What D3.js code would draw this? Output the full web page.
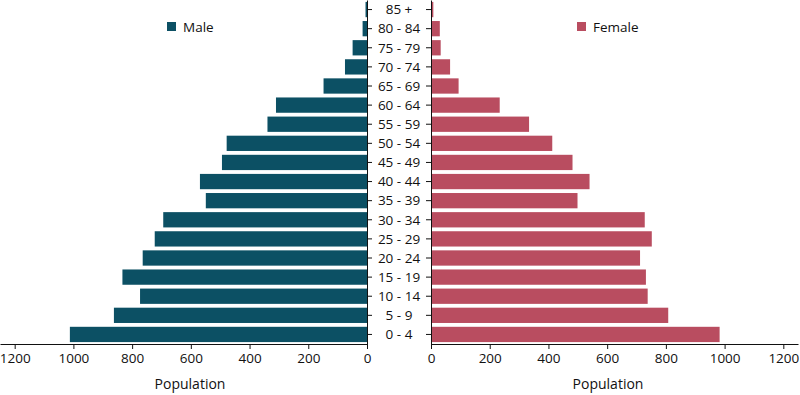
<!DOCTYPE html>
<html>
<head>
<meta charset="utf-8">
<script src="https://cdn.jsdelivr.net/npm/d3@7"></script>
<style>
  body { margin: 0; background: #fff; }
  text { font-family: "Open Sans", sans-serif; fill: #111; }
  .axis path, .axis line { stroke: #111; }
</style>
</head>
<body>
<div id="chart"></div>
<script>
// age groups, top to bottom
var ageGroups = ["85 +", "80 - 84", "75 - 79", "70 - 74", "65 - 69", "60 - 64", "55 - 59",
  "50 - 54", "45 - 49", "40 - 44", "35 - 39", "30 - 34", "25 - 29", "20 - 24",
  "15 - 19", "10 - 14", "5 - 9", "0 - 4"];
var maleValues = [5, 15, 49, 75, 148, 310, 339, 478, 494, 569, 549, 694, 723, 764, 833, 773, 862, 1012];
var femaleValues = [8, 30, 33, 65, 94, 234, 334, 413, 482, 540, 499, 728, 752, 712, 732, 738, 808, 983];
var xTicks = [0, 200, 400, 600, 800, 1000, 1200];

var svgWidth = 800;
var svgHeight = 395;
var plotHeight = 344;
var leftZero = 367;
var rightZero = 431;
var halfWidth = 367;

var maleColor = "#0c5064";
var femaleColor = "#b94d60";

var data = ageGroups.map(function(g, i) {
  return { group: g, male: maleValues[i], female: femaleValues[i] };
});

var svg = d3.select("#chart")
  .append("svg")
  .attr("width", svgWidth)
  .attr("height", svgHeight);

// scales
var yScale = d3.scaleBand()
  .domain(ageGroups)
  .range([0, plotHeight])
  .paddingInner(0.2)
  .paddingOuter(0.1);

var xMale = d3.scaleLinear()
  .domain([0, 1250])
  .range([leftZero, leftZero - halfWidth]);

var xFemale = d3.scaleLinear()
  .domain([0, 1250])
  .range([rightZero, rightZero + halfWidth]);

// bars
svg.selectAll(".male")
  .data(data)
  .enter()
  .append("rect")
  .attr("class", "male")
  .attr("x", d => xMale(d.male))
  .attr("y", d => yScale(d.group))
  .attr("width", d => xMale(0) - xMale(d.male))
  .attr("height", yScale.bandwidth())
  .attr("fill", maleColor);

svg.selectAll(".female")
  .data(data)
  .enter()
  .append("rect")
  .attr("class", "female")
  .attr("x", xFemale(0))
  .attr("y", d => yScale(d.group))
  .attr("width", d => xFemale(d.female) - xFemale(0))
  .attr("height", yScale.bandwidth())
  .attr("fill", femaleColor);

// bottom axes
svg.append("g")
  .attr("class", "axis")
  .attr("transform", `translate(0, ${plotHeight})`)
  .call(d3.axisBottom(xMale).tickValues(xTicks).tickFormat(d3.format("d"))
    .tickSize(5).tickSizeOuter(0).tickPadding(4))
  .selectAll("text").attr("font-size", "13.5px");

svg.append("g")
  .attr("class", "axis")
  .attr("transform", `translate(0, ${plotHeight})`)
  .call(d3.axisBottom(xFemale).tickValues(xTicks).tickFormat(d3.format("d"))
    .tickSize(5).tickSizeOuter(0).tickPadding(4))
  .selectAll("text").attr("font-size", "13.5px");

// vertical axes (labels drawn once in the middle)
svg.append("g")
  .attr("class", "axis")
  .attr("transform", `translate(${leftZero}, 0)`)
  .call(d3.axisRight(yScale).tickSize(5).tickSizeOuter(0).tickFormat(""));

svg.append("g")
  .attr("class", "axis")
  .attr("transform", `translate(${rightZero}, 0)`)
  .call(d3.axisLeft(yScale).tickSize(5).tickSizeOuter(0).tickFormat(""));

svg.selectAll(".ageLabel")
  .data(ageGroups)
  .enter()
  .append("text")
  .attr("class", "ageLabel")
  .attr("x", (leftZero + rightZero) / 2)
  .attr("y", d => yScale(d) + yScale.bandwidth() / 2)
  .attr("dy", "0.35em")
  .attr("text-anchor", "middle")
  .attr("font-size", "13.5px")
  .text(d => d);

// axis titles
svg.append("text")
  .attr("x", 190)
  .attr("y", 389)
  .attr("text-anchor", "middle")
  .attr("font-size", "14px")
  .text("Population");

svg.append("text")
  .attr("x", 608)
  .attr("y", 389)
  .attr("text-anchor", "middle")
  .attr("font-size", "14px")
  .text("Population");

// legends
var legends = [
  { label: "Male", color: maleColor, x: 167 },
  { label: "Female", color: femaleColor, x: 577 }
];

legends.forEach(function(l) {
  svg.append("rect")
    .attr("x", l.x)
    .attr("y", 22)
    .attr("width", 9)
    .attr("height", 9)
    .attr("fill", l.color);
  svg.append("text")
    .attr("x", l.x + 16)
    .attr("y", 31.5)
    .attr("font-size", "13.5px")
    .text(l.label);
});
</script>
</body>
</html>
